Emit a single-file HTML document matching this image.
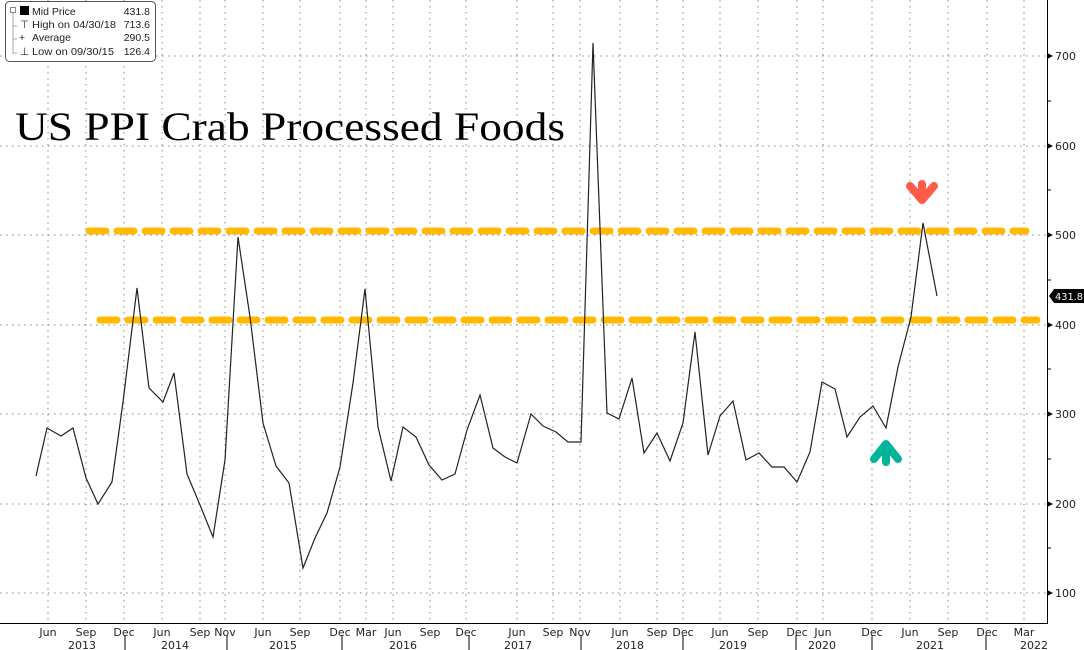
<!DOCTYPE html>
<html><head><meta charset="utf-8"><style>
html,body{margin:0;padding:0;background:#fff;}
svg{display:block;font-family:"DejaVu Sans","Liberation Sans",sans-serif;}
</style></head><body>
<svg width="1084" height="650" viewBox="0 0 1084 650" xmlns="http://www.w3.org/2000/svg">
<rect width="1084" height="650" fill="#fff"/>
<g stroke="#888" stroke-width="1" stroke-dasharray="1.5,4.5">
<line x1="0" y1="56" x2="1047" y2="56"/>
<line x1="0" y1="146" x2="1047" y2="146"/>
<line x1="0" y1="235" x2="1047" y2="235"/>
<line x1="0" y1="325" x2="1047" y2="325"/>
<line x1="0" y1="414" x2="1047" y2="414"/>
<line x1="0" y1="504" x2="1047" y2="504"/>
<line x1="0" y1="593" x2="1047" y2="593"/>
<line x1="48" y1="0" x2="48" y2="622"/><line x1="86" y1="0" x2="86" y2="622"/><line x1="124" y1="0" x2="124" y2="622"/>
<line x1="162" y1="0" x2="162" y2="622"/><line x1="200" y1="0" x2="200" y2="622"/><line x1="225" y1="0" x2="225" y2="622"/>
<line x1="263" y1="0" x2="263" y2="622"/><line x1="300" y1="0" x2="300" y2="622"/><line x1="340" y1="0" x2="340" y2="622"/>
<line x1="366" y1="0" x2="366" y2="622"/><line x1="393" y1="0" x2="393" y2="622"/><line x1="430" y1="0" x2="430" y2="622"/>
<line x1="466" y1="0" x2="466" y2="622"/><line x1="517" y1="0" x2="517" y2="622"/><line x1="553" y1="0" x2="553" y2="622"/>
<line x1="580" y1="0" x2="580" y2="622"/><line x1="620" y1="0" x2="620" y2="622"/><line x1="657" y1="0" x2="657" y2="622"/>
<line x1="683" y1="0" x2="683" y2="622"/><line x1="720" y1="0" x2="720" y2="622"/><line x1="758" y1="0" x2="758" y2="622"/>
<line x1="797" y1="0" x2="797" y2="622"/><line x1="823" y1="0" x2="823" y2="622"/><line x1="872" y1="0" x2="872" y2="622"/>
<line x1="910" y1="0" x2="910" y2="622"/><line x1="948" y1="0" x2="948" y2="622"/><line x1="987" y1="0" x2="987" y2="622"/>
<line x1="1024" y1="0" x2="1024" y2="622"/>
</g>
<line x1="1047.5" y1="0" x2="1047.5" y2="623" stroke="#000" stroke-width="1"/>
<line x1="0" y1="623.5" x2="1048" y2="623.5" stroke="#000" stroke-width="1"/>
<g stroke="#000">
<line x1="1047" y1="101" x2="1051" y2="101"/><line x1="1047" y1="190" x2="1051" y2="190"/><line x1="1047" y1="280" x2="1051" y2="280"/>
<line x1="1047" y1="369" x2="1051" y2="369"/><line x1="1047" y1="459" x2="1051" y2="459"/><line x1="1047" y1="548" x2="1051" y2="548"/>
<line x1="125" y1="635" x2="125" y2="650"/><line x1="227" y1="635" x2="227" y2="650"/><line x1="342" y1="635" x2="342" y2="650"/>
<line x1="469" y1="635" x2="469" y2="650"/><line x1="581" y1="635" x2="581" y2="650"/><line x1="683" y1="635" x2="683" y2="650"/>
<line x1="796" y1="635" x2="796" y2="650"/><line x1="872" y1="635" x2="872" y2="650"/><line x1="986" y1="635" x2="986" y2="650"/>
</g>
<g fill="#000">
<polygon points="1047,53 1053,56 1047,59"/><polygon points="1047,143 1053,146 1047,149"/><polygon points="1047,232 1053,235 1047,238"/>
<polygon points="1047,322 1053,325 1047,328"/><polygon points="1047,411 1053,414 1047,417"/><polygon points="1047,501 1053,504 1047,507"/>
<polygon points="1047,590 1053,593 1047,596"/>
</g>
<g font-size="11" fill="#222">
<text x="1055" y="60">700</text><text x="1055" y="150">600</text><text x="1055" y="239">500</text>
<text x="1055" y="329">400</text><text x="1055" y="418">300</text><text x="1055" y="508">200</text><text x="1055" y="597">100</text>
</g>
<polygon points="1049,296 1054,289 1084,289 1084,303 1054,303" fill="#000"/>
<text x="1055" y="300" font-size="10" fill="#fff" textLength="28" lengthAdjust="spacingAndGlyphs">431.8</text>
<g font-size="11" fill="#222" text-anchor="middle">
<text x="48" y="636">Jun</text><text x="86" y="636">Sep</text><text x="124" y="636">Dec</text><text x="162" y="636">Jun</text>
<text x="200" y="636">Sep</text><text x="225" y="636">Nov</text><text x="263" y="636">Jun</text><text x="300" y="636">Sep</text>
<text x="340" y="636">Dec</text><text x="366" y="636">Mar</text><text x="393" y="636">Jun</text><text x="430" y="636">Sep</text>
<text x="466" y="636">Dec</text><text x="517" y="636">Jun</text><text x="553" y="636">Sep</text><text x="580" y="636">Nov</text>
<text x="620" y="636">Jun</text><text x="657" y="636">Sep</text><text x="683" y="636">Dec</text><text x="720" y="636">Jun</text>
<text x="758" y="636">Sep</text><text x="797" y="636">Dec</text><text x="823" y="636">Jun</text><text x="872" y="636">Dec</text>
<text x="910" y="636">Jun</text><text x="948" y="636">Sep</text><text x="987" y="636">Dec</text><text x="1024" y="636">Mar</text>
<text x="82" y="649">2013</text><text x="175" y="649">2014</text><text x="283" y="649">2015</text><text x="403" y="649">2016</text>
<text x="518" y="649">2017</text><text x="630" y="649">2018</text><text x="733" y="649">2019</text><text x="822" y="649">2020</text>
<text x="930" y="649">2021</text><text x="1034" y="649">2022</text>
</g>
<g stroke="#ffba00" stroke-width="7" stroke-linecap="round" stroke-dasharray="17,11">
<line x1="89" y1="231" x2="1026" y2="231"/>
<line x1="100" y1="320" x2="1037" y2="320"/>
</g>
<polyline fill="none" stroke="#222" stroke-width="1.2" points="36,476 47,428 61,436 73,428 86,478 98,504 112,482 123,402 137,288 149,388 163,402 174,373 187,474 200,505 213,537 225,460 238,237 250,317 263,423 276,466 289,483 303,568 315,538 327,513 340,467 353,383 365,289 378,427 391,481 403,427 416,437 429,465 442,480 455,474 467,430 480,395 493,448 505,457 517,463 531,414 543,426 556,432 568,442 581,442 593,43 607,413 619,419 632,378 644,453 657,433 670,461 683,423 695,332 708,455 720,416 733,401 746,460 759,453 772,467 784,467 797,482 810,452 822,382 835,389 847,437 860,417 873,406 886,428 898,367 911,317 923,223 937,296"/>
<g fill="none" stroke="#ff5a4a" stroke-width="8" stroke-linecap="round" stroke-linejoin="round">
<polyline points="910,186 922,200 934,186"/>
<line x1="922" y1="184" x2="922" y2="198"/>
</g>
<g fill="none" stroke="#00b497" stroke-width="8" stroke-linecap="round" stroke-linejoin="round">
<polyline points="874,459 886,444 898,459"/>
<line x1="886" y1="447" x2="886" y2="462"/>
</g>
<text x="15" y="140" font-family="'Liberation Serif',serif" font-size="40" fill="#000" textLength="550" lengthAdjust="spacingAndGlyphs">US PPI Crab Processed Foods</text>
<rect x="5.5" y="1.5" width="150" height="60" rx="4" fill="#fff" stroke="#555"/>
<g font-family="'Liberation Sans',sans-serif" font-size="10.5" fill="#222">
<rect x="20" y="6" width="9" height="9" fill="#000"/>
<rect x="10.5" y="7.5" width="5" height="5" fill="none" stroke="#888"/>
<line x1="13" y1="13" x2="13" y2="54" stroke="#aaa"/>
<line x1="13" y1="26" x2="17" y2="26" stroke="#aaa"/><line x1="13" y1="39" x2="17" y2="39" stroke="#aaa"/><line x1="13" y1="53" x2="17" y2="53" stroke="#aaa"/>
<text x="32" y="15">Mid Price</text><text x="150" y="15" text-anchor="end">431.8</text>
<text x="20" y="28">⊤</text><text x="32" y="28" textLength="84" lengthAdjust="spacingAndGlyphs">High on 04/30/18</text><text x="150" y="28" text-anchor="end">713.6</text>
<text x="19" y="41">+</text><text x="32" y="41">Average</text><text x="150" y="41" text-anchor="end">290.5</text>
<text x="20" y="55">⊥</text><text x="32" y="55" textLength="82" lengthAdjust="spacingAndGlyphs">Low on 09/30/15</text><text x="150" y="55" text-anchor="end">126.4</text>
</g>
</svg>
</body></html>
